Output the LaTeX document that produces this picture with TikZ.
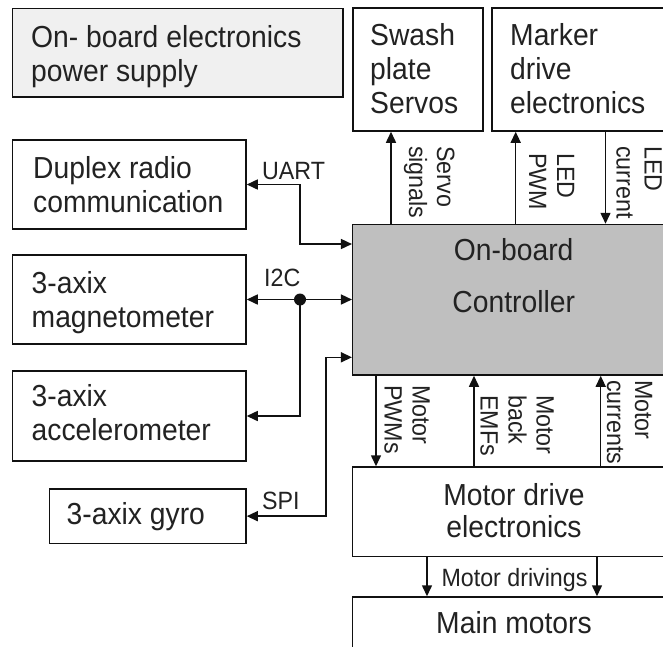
\documentclass[tikz,border=0pt]{standalone}
\usepackage{fontspec}
\setmainfont{Liberation Sans}[FakeStretch=0.93]
\usetikzlibrary{arrows.meta,fit}
\newcommand\txtL[1]{\begin{tabular}[t]{@{}l@{}}#1\end{tabular}}
\newcommand\txtC[1]{\begin{tabular}[t]{@{}c@{}}#1\end{tabular}}
\definecolor{linec}{HTML}{111111}
\definecolor{textc}{HTML}{222222}
\definecolor{ctrlfill}{HTML}{BFBFBF}
\definecolor{psfill}{HTML}{F0F0F0}
\begin{document}
\begin{tikzpicture}[x=1pt,y=-1pt,
  box/.style={draw=linec, line width=1.5pt, inner sep=0pt, fill=white},
  btxt/.style={font=\fontsize{30.4}{34}\selectfont, inner sep=0pt, text=textc},
  lbl/.style={font=\fontsize{25}{28}\selectfont, inner sep=0pt, text=textc},
  conn/.style={draw=linec, line width=1.5pt},
  arr/.style={conn, -{Triangle[length=11pt,width=10pt]}},
  arrtwo/.style={conn, {Triangle[length=11pt,width=10pt]}-{Triangle[length=11pt,width=10pt]}}]
\useasboundingbox (0,0) rectangle (663,646);
\clip (0,0) rectangle (663,646);
\fill[white] (0,0) rectangle (663,646);
% boxes
\node[box, fill=psfill, fit={(12.7,8.5) (343,97)}] (power) {};
\node[box, fit={(353,8) (483,131)}] (swash) {};
\node[box, fit={(492,8) (690,131)}] (marker) {};
\node[box, fit={(12.7,140) (246,229)}] (duplex) {};
\node[box, fit={(12.7,255) (246,344)}] (magn) {};
\node[box, fit={(12.7,371) (246,461)}] (accel) {};
\node[box, fit={(49.3,489) (246,543.3)}] (gyro) {};
\node[box, fill=ctrlfill, fit={(352.7,224.5) (690,375)}] (ctrl) {};
\node[box, fit={(352.7,467) (690,556.5)}] (mdrive) {};
\node[box, fit={(352.7,597) (690,700)}] (mmotors) {};
% box texts
\node[btxt, anchor=base west] (powertxt) at (31,47.5) {\txtL{On- board electronics\\power supply}};
\node[btxt, anchor=base west] (swashtxt) at (370,45.7) {\txtL{Swash\\plate\\Servos}};
\node[btxt, anchor=base west] (markertxt) at (510,45.7) {\txtL{Marker\\drive\\electronics}};
\node[btxt, anchor=base west] (duplextxt) at (33,178) {\txtL{Duplex radio\\communication}};
\node[btxt, anchor=base west] (magntxt) at (31.5,293.3) {\txtL{3-axix\\magnetometer}};
\node[btxt, anchor=base west] (acceltxt) at (31.5,406.7) {\txtL{3-axix\\accelerometer}};
\node[btxt, anchor=base west] (gyrotxt) at (66.5,524) {3-axix gyro};
\node[btxt, font=\fontsize{30.4}{52}\selectfont, anchor=base] (ctrltxt) at (513.7,260.7) {\txtC{On-board\\Controller}};
\node[btxt, font=\fontsize{30.4}{32.5}\selectfont, anchor=base] (mdrivetxt) at (514,505) {\txtC{Motor drive\\electronics}};
\node[btxt, anchor=base] (mmotorstxt) at (514,633) {Main motors};
% left connectors
\coordinate (uartJ) at (300,244);
\draw[arrtwo] (duplex.east) -| (uartJ) -- (ctrl.west |- uartJ);
\coordinate (i2cJ) at (300,299.5);
\draw[arrtwo] (magn.east) -- (ctrl.west |- magn.east);
\draw[arr] (i2cJ) |- (accel.east);
\fill[linec] (i2cJ) circle (6pt);
\coordinate (spiJ) at (326,357.3);
\draw[arrtwo] (gyro.east) -| (spiJ) -- (ctrl.west |- spiJ);
\node[lbl, anchor=base west] (uartlbl) at (262,179.3) {UART};
\node[lbl, anchor=base west] (i2clbl) at (264,286.7) {I2C};
\node[lbl, anchor=base west] (spilbl) at (262,509) {SPI};
% top connectors
\coordinate (servoX) at (391,0);
\coordinate (ledpX) at (515.7,0);
\coordinate (ledcX) at (605.5,0);
\draw[arr] (ctrl.north -| servoX) -- (swash.south -| servoX);
\draw[arr] (ctrl.north -| ledpX) -- (marker.south -| ledpX);
\draw[arr] (marker.south -| ledcX) -- (ctrl.north -| ledcX);
\node[lbl, rotate=-90, anchor=base west] (servolbl) at (437,146) {\txtL{Servo\\signals}};
\node[lbl, rotate=-90, anchor=base west] (ledplbl) at (557,153) {\txtL{LED\\PWM}};
\node[lbl, rotate=-90, anchor=base west] (ledclbl) at (644.5,146) {\txtL{LED\\current}};
% bottom connectors
\coordinate (mpX) at (376,0);
\coordinate (emfX) at (474,0);
\coordinate (mcX) at (600.7,0);
\draw[arr] (ctrl.south -| mpX) -- (mdrive.north -| mpX);
\draw[arr] (mdrive.north -| emfX) -- (ctrl.south -| emfX);
\draw[arr] (mdrive.north -| mcX) -- (ctrl.south -| mcX);
\node[lbl, rotate=-90, anchor=base west] (mplbl) at (412.5,385) {\txtL{Motor\\PWMs}};
\node[lbl, rotate=-90, anchor=base west] (emflbl) at (536.5,395) {\txtL{Motor\\back\\EMFs}};
\node[lbl, rotate=-90, anchor=base west] (mclbl) at (635,380) {\txtL{Motor\\currents}};
% motor drivings
\coordinate (d1X) at (427,0);
\coordinate (d2X) at (597,0);
\draw[arr] (mdrive.south -| d1X) -- (mmotors.north -| d1X);
\draw[arr] (mdrive.south -| d2X) -- (mmotors.north -| d2X);
\node[lbl, anchor=base] (drvlbl) at (514.5,586.7) {Motor drivings};
\end{tikzpicture}
\end{document}
